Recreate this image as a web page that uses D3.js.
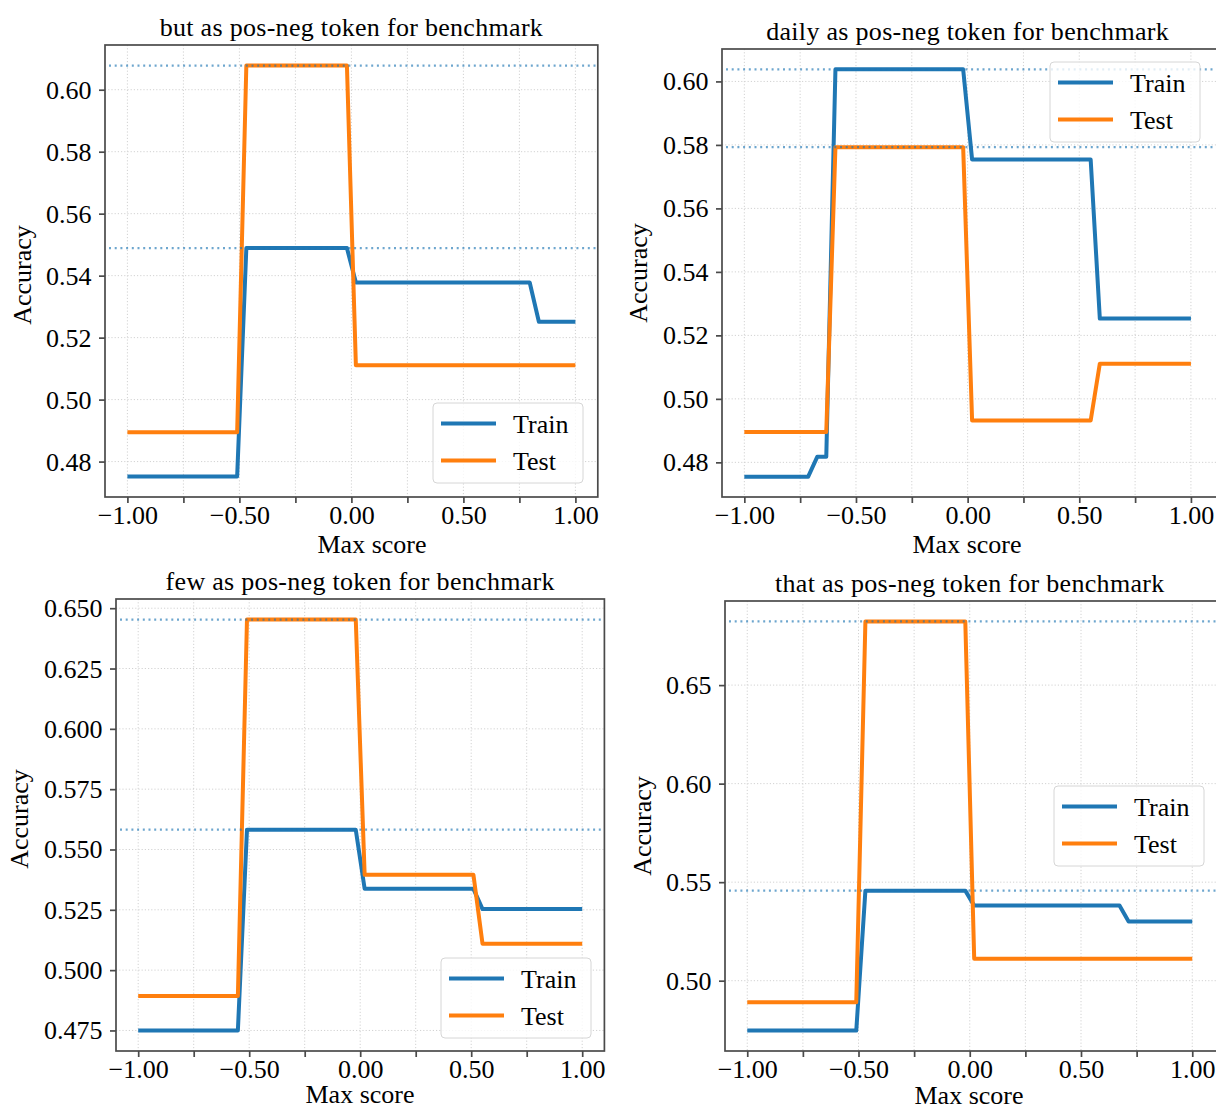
<!DOCTYPE html>
<html>
<head>
<meta charset="utf-8">
<script src="https://cdn.jsdelivr.net/npm/d3@7"></script>
<style>
  body { margin: 0; background: #fff; }
  svg { display: block; font-family: "Liberation Serif", "Times New Roman", serif; }
</style>
</head>
<body>
<svg id="chart" width="1216" height="1108"></svg>
<script>
// Accuracy of the pos/neg-token classifier as a function of the max-score threshold.
// Each curve is given by the corners where its level changes.

// "but"
const butTrainX = [-1, -0.510, -0.469, -0.020, 0.020, 0.796, 0.837, 1];
const butTrainY = [0.4752, 0.4752, 0.5489, 0.5489, 0.5378, 0.5378, 0.5251, 0.5251];
const butTestX  = [-1, -0.510, -0.469, -0.020, 0.020, 1];
const butTestY  = [0.4895, 0.4895, 0.6078, 0.6078, 0.5111, 0.5111];

// "daily"
const dailyTrainX = [-1, -0.714, -0.673, -0.633, -0.592, -0.020, 0.020, 0.551, 0.592, 1];
const dailyTrainY = [0.4755, 0.4755, 0.4818, 0.4818, 0.6038, 0.6038, 0.5754, 0.5754, 0.5253, 0.5253];
const dailyTestX  = [-1, -0.633, -0.592, -0.020, 0.020, 0.551, 0.592, 1];
const dailyTestY  = [0.4896, 0.4896, 0.5793, 0.5793, 0.4932, 0.4932, 0.5111, 0.5111];

// "few"
const fewTrainX = [-1, -0.551, -0.510, -0.020, 0.020, 0.510, 0.551, 1];
const fewTrainY = [0.4750, 0.4750, 0.5582, 0.5582, 0.5337, 0.5337, 0.5253, 0.5253];
const fewTestX  = [-1, -0.551, -0.510, -0.020, 0.020, 0.510, 0.551, 1];
const fewTestY  = [0.4893, 0.4893, 0.6453, 0.6453, 0.5395, 0.5395, 0.5109, 0.5109];

// "that"
const thatTrainX = [-1, -0.510, -0.469, -0.020, 0.020, 0.673, 0.714, 1];
const thatTrainY = [0.4747, 0.4747, 0.5457, 0.5457, 0.5381, 0.5381, 0.5300, 0.5300];
const thatTestX  = [-1, -0.510, -0.469, -0.020, 0.020, 1];
const thatTestY  = [0.4891, 0.4891, 0.6823, 0.6823, 0.5111, 0.5111];

const seriesNames  = ["Train", "Test"];
const seriesColors = ["#1f77b4", "#ff7f0e"];

const panelTitles = [
  "but as pos-neg token for benchmark",
  "daily as pos-neg token for benchmark",
  "few as pos-neg token for benchmark",
  "that as pos-neg token for benchmark"
];

const xTickValues = [-1, -0.75, -0.5, -0.25, 0, 0.25, 0.5, 0.75, 1];
const xTickLabels = ["−1.00", "", "−0.50", "", "0.00", "", "0.50", "", "1.00"];

const butYTicks   = [0.48, 0.50, 0.52, 0.54, 0.56, 0.58, 0.60];
const dailyYTicks = [0.48, 0.50, 0.52, 0.54, 0.56, 0.58, 0.60];
const fewYTicks   = [0.475, 0.500, 0.525, 0.550, 0.575, 0.600, 0.625, 0.650];
const thatYTicks  = [0.50, 0.55, 0.60, 0.65];

const xLabel = "Max score";
const yLabel = "Accuracy";

// Panel geometry: left edge, pixels per x unit, top/bottom, frame right edge,
// legend box corner and axis-label placement.
const panels = [
  { title: panelTitles[0], train: [butTrainX, butTrainY], test: [butTestX, butTestY],
    yTicks: butYTicks, yFmt: ".2f",
    l: 105, unit: 224, t: 45, b: 497, frameR: null,
    legend: { x: 433, y: 403 }, xLabelX: 372, xLabelDy: 56, yLabelY: 275, yLabelX: 31 },
  { title: panelTitles[1], train: [dailyTrainX, dailyTrainY], test: [dailyTestX, dailyTestY],
    yTicks: dailyYTicks, yFmt: ".2f",
    l: 722, unit: 223.3, t: 49, b: 497, frameR: 1222,
    legend: { x: 1050, y: 62 }, xLabelX: 967, xLabelDy: 56, yLabelY: 273, yLabelX: 647 },
  { title: panelTitles[2], train: [fewTrainX, fewTrainY], test: [fewTestX, fewTestY],
    yTicks: fewYTicks, yFmt: ".3f",
    l: 116, unit: 222, t: 599, b: 1051, frameR: null,
    legend: { x: 441, y: 958 }, xLabelX: 360, xLabelDy: 52, yLabelY: 819, yLabelX: 28 },
  { title: panelTitles[3], train: [thatTrainX, thatTrainY], test: [thatTestX, thatTestY],
    yTicks: thatYTicks, yFmt: ".2f",
    l: 725, unit: 222.5, t: 601, b: 1051, frameR: 1222,
    legend: { x: 1054, y: 786 }, xLabelX: 969, xLabelDy: 53, yLabelY: 826, yLabelX: 651 }
];

const svg = d3.select("#chart");
svg.append("rect").attr("width", 1216).attr("height", 1108).attr("fill", "#fff");

const spineColor = "#4a4a4a";
const tickFont = 26;

panels.forEach((p, i) => {
  const { l, t, b } = p;
  const series = [p.train, p.test].map(([xs, ys]) => xs.map((x, k) => ({ x, y: ys[k] })));
  const allY = series.flat().map(d => d.y);
  const [yMin, yMax] = d3.extent(allY);
  const pad = (yMax - yMin) * 0.05;

  const x = d3.scaleLinear().domain([-1.1, 1.1]).range([l, l + 2.2 * p.unit]);
  const y = d3.scaleLinear().domain([yMin - pad, yMax + pad]).range([b, t]);
  const r = p.frameR || x(1.1);

  const g = svg.append("g");
  const clipId = "clip" + i;
  svg.append("clipPath").attr("id", clipId)
    .append("rect").attr("x", l).attr("y", t).attr("width", r - l).attr("height", b - t);

  // grid
  const grid = g.append("g").attr("clip-path", `url(#${clipId})`)
    .attr("stroke", "#d2d2d2").attr("stroke-width", 1).attr("stroke-dasharray", "1.2,2");
  grid.selectAll("line.vx").data(xTickValues).join("line")
    .attr("x1", d => x(d)).attr("x2", d => x(d)).attr("y1", t).attr("y2", b);
  grid.selectAll("line.hy").data(p.yTicks).join("line")
    .attr("x1", l).attr("x2", r).attr("y1", d => y(d)).attr("y2", d => y(d));

  // series curves
  const line = d3.line().x(d => x(d.x)).y(d => y(d.y));
  const plot = g.append("g").attr("clip-path", `url(#${clipId})`);
  series.forEach((s, k) => {
    plot.append("path").datum(s)
      .attr("d", line)
      .attr("fill", "none")
      .attr("stroke", seriesColors[k])
      .attr("stroke-width", 4)
      .attr("stroke-linejoin", "round")
      .attr("stroke-linecap", "butt");
  });

  // horizontal reference lines at each curve's best accuracy
  const bestValues = series.map(s => d3.max(s, d => d.y));
  plot.selectAll("line.best").data(bestValues).join("line")
    .attr("x1", l + 4).attr("x2", r).attr("y1", d => y(d)).attr("y2", d => y(d))
    .attr("stroke", "#1f77b4").attr("stroke-opacity", 0.65)
    .attr("stroke-width", 2.2).attr("stroke-dasharray", "2,3.7");

  // axes
  const xAxis = d3.axisBottom(x).tickValues(xTickValues)
    .tickFormat((d, k) => xTickLabels[k]).tickSize(6).tickPadding(4);
  const gx = g.append("g").attr("transform", `translate(0,${b})`).call(xAxis);
  gx.select(".domain").remove();
  gx.selectAll(".tick line").attr("stroke", spineColor).attr("stroke-width", 1.7);
  gx.selectAll(".tick text").attr("font-size", tickFont).attr("fill", "#000")
    .attr("font-family", "Liberation Serif, serif").attr("dy", null).attr("y", 27);

  const yAxis = d3.axisLeft(y).tickValues(p.yTicks).tickFormat(d3.format(p.yFmt)).tickSize(6);
  const gy = g.append("g").attr("transform", `translate(${l},0)`).call(yAxis);
  gy.select(".domain").remove();
  gy.selectAll(".tick line").attr("stroke", spineColor).attr("stroke-width", 1.7);
  gy.selectAll(".tick text").attr("font-size", tickFont).attr("fill", "#000")
    .attr("font-family", "Liberation Serif, serif").attr("x", -13.5).attr("dy", 8.5);

  // frame
  g.append("rect").attr("x", l).attr("y", t).attr("width", r - l).attr("height", b - t)
    .attr("fill", "none").attr("stroke", spineColor).attr("stroke-width", 1.7);

  // title and axis labels
  g.append("text").attr("x", x(0)).attr("y", t - 9).attr("text-anchor", "middle")
    .attr("font-size", 26).attr("letter-spacing", 0.3).text(p.title);
  g.append("text").attr("x", p.xLabelX).attr("y", b + p.xLabelDy).attr("text-anchor", "middle")
    .attr("font-size", 26).text(xLabel);
  g.append("text").attr("transform", `translate(${p.yLabelX},${p.yLabelY}) rotate(-90)`)
    .attr("text-anchor", "middle").attr("font-size", 26).text(yLabel);

  // legend
  const lg = g.append("g").attr("transform", `translate(${p.legend.x},${p.legend.y})`);
  lg.append("rect").attr("width", 150).attr("height", 80).attr("rx", 4)
    .attr("fill", "#fff").attr("fill-opacity", 0.8)
    .attr("stroke", "#d6d6d6").attr("stroke-width", 1);
  seriesNames.forEach((name, k) => {
    const ry = 20.5 + k * 37;
    lg.append("line").attr("x1", 8).attr("x2", 63).attr("y1", ry).attr("y2", ry)
      .attr("stroke", seriesColors[k]).attr("stroke-width", 4);
    lg.append("text").attr("x", 80).attr("y", ry + 9).attr("font-size", 26).text(name);
  });
});
</script>
</body>
</html>
